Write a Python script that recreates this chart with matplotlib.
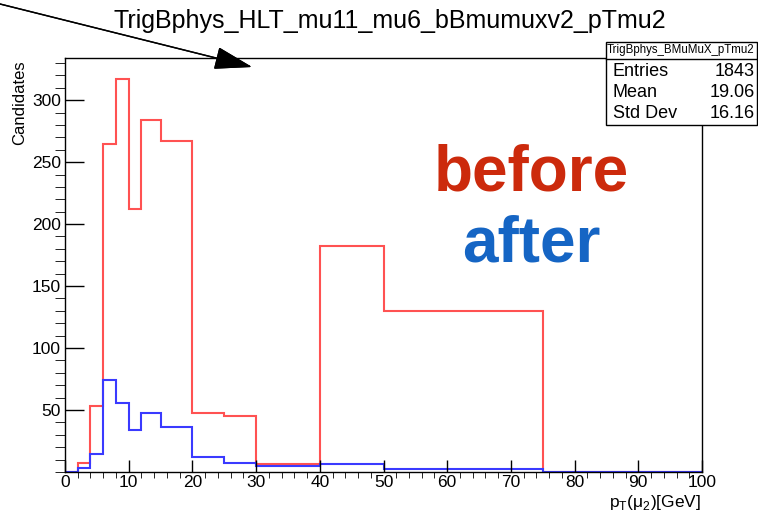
import numpy as np
import matplotlib
matplotlib.use('Agg')
import matplotlib.pyplot as plt
from matplotlib.ticker import MultipleLocator

plt.rcParams['font.family'] = ['Liberation Sans', 'DejaVu Sans']

# variable bin edges, pT of second muon [GeV]
edges = [0, 2, 4, 6, 8, 10, 12, 15, 20, 25, 30, 40, 50, 75, 100]
before = [0, 7.5, 53, 265, 317, 212, 284, 267, 48, 45, 6.5, 182, 130, 0]
after = [0, 3.5, 14.5, 74, 56, 34, 48, 36, 12.5, 7.5, 4.5, 6.5, 2.5, 0.3]

title = 'TrigBphys_HLT_mu11_mu6_bBmumuxv2_pTmu2'
stats_title = 'TrigBphys_BMuMuX_pTmu2'
stats = [('Entries', '1843'), ('Mean', '19.06'), ('Std Dev', '16.16')]

W, H = 758, 515
fig = plt.figure(figsize=(W/100, H/100), dpi=100)

def fx(px):
    return px/W

def fy(py):
    # py measured from top of picture
    return 1 - py/H

ax = fig.add_axes([fx(65), fy(472), fx(702-65), (472-58)/H])
ax.stairs(before, edges, color='#ff5252', lw=1.5, baseline=0)
ax.stairs(after, edges, color='#3a3aff', lw=1.5, baseline=0)

ax.set_xlim(0, 100)
ax.set_ylim(0, 334)
ax.xaxis.set_major_locator(MultipleLocator(10))
ax.xaxis.set_minor_locator(MultipleLocator(2))
ax.yaxis.set_major_locator(MultipleLocator(50))
ax.yaxis.set_minor_locator(MultipleLocator(10))
ax.set_yticks([50, 100, 150, 200, 250, 300])
ax.tick_params(direction='in', labelsize=12.5, width=1, colors='black')
ax.tick_params(axis='x', which='major', length=8.6, pad=2)
ax.tick_params(axis='x', which='minor', length=4.3)
ax.tick_params(axis='y', which='major', length=13.7, pad=3)
ax.tick_params(axis='y', which='minor', length=7.2)
for sp in ax.spines.values():
    sp.set_linewidth(1)

fig.text(fx(390), fy(21), title, ha='center', va='center', fontsize=18)
fig.text(fx(20), fy(60), 'Candidates', rotation=90, ha='center', va='top', fontsize=12)
fig.text(fx(701), fy(502), r'p$_{\mathregular{T}}$($\mathregular{\mu}_{\mathregular{2}}$)[GeV]',
         ha='right', va='center', fontsize=12.5)

# stats box
box = plt.Rectangle((fx(606), fy(125)), fx(757-606), (125-42)/H, transform=fig.transFigure,
                    facecolor='white', edgecolor='black', lw=1, zorder=5)
fig.add_artist(box)
fig.add_artist(plt.Line2D([fx(606), fx(757)], [fy(59), fy(59)], transform=fig.transFigure,
                          color='black', lw=1, zorder=6))
fig.text(fx(681), fy(50.5), stats_title, ha='center', va='center', fontsize=8.3, zorder=7)
for i, (k, v) in enumerate(stats):
    y = 72 + i*20.5
    fig.text(fx(613), fy(y), k, ha='left', va='center', fontsize=13, zorder=7)
    fig.text(fx(755), fy(y), v, ha='right', va='center', fontsize=13, zorder=7)

fig.text(fx(531), fy(191), 'before', ha='center', va='baseline', fontsize=46,
         fontweight='bold', color='#cc2a0c')
fig.text(fx(531), fy(262), 'after', ha='center', va='baseline', fontsize=46,
         fontweight='bold', color='#1565c4')

# arrow pointing at the histogram
fig.add_artist(plt.annotate('', xy=(252, H-67), xycoords='figure pixels',
                            xytext=(0, H-4), textcoords='figure pixels',
                            arrowprops=dict(arrowstyle='-|>,head_length=1.2,head_width=0.36',
                                            mutation_scale=20, color='black', lw=1,
                                            shrinkA=0, shrinkB=0)))

fig.savefig('out.png', dpi=100)
